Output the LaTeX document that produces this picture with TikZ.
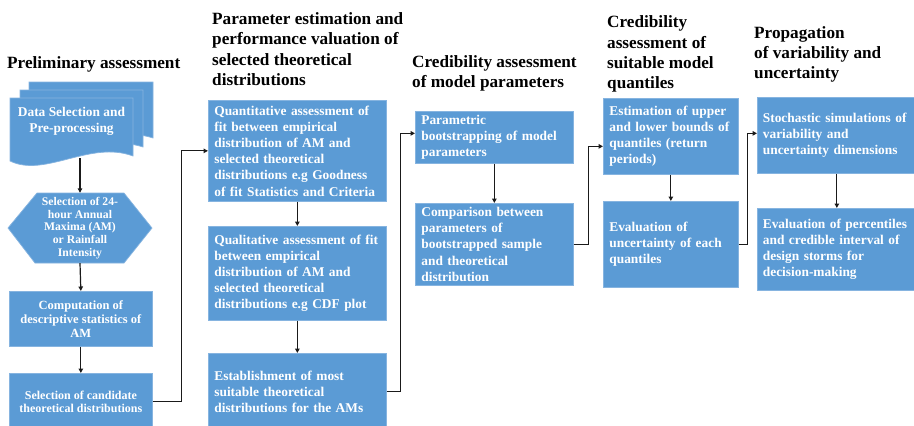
\documentclass[tikz,border=0pt]{standalone}
\usepackage{fontspec}
\setmainfont{Liberation Serif}
\usetikzlibrary{arrows.meta,calc}
\definecolor{boxblue}{HTML}{5B9BD5}
\definecolor{boxedge}{HTML}{86B4E0}
\definecolor{wire}{HTML}{1A1A1A}
\tikzset{
  fillshape/.style={fill=boxblue, draw=boxedge, line width=0.7pt},
  stepbox/.style={fillshape, text=white, anchor=north west, align=left,
    inner xsep=6pt, inner ysep=0pt, font=\bfseries\fontsize{13.4}{16.2}\selectfont,
    execute at begin node={\hyphenpenalty=10000\exhyphenpenalty=10000}},
  centerbox/.style={fillshape, text=white, anchor=north west, align=center, inner sep=0pt},
  heading/.style={anchor=north west, inner sep=0pt, align=left,
    font=\bfseries\fontsize{17.2}{20.3}\selectfont},
  flow/.style={draw=wire, line width=1.2pt, -{Triangle[length=4.5pt,width=4.5pt]}},
}
\begin{document}
\begin{tikzpicture}[x=1pt,y=-1pt]
\fill[white] (0,0) rectangle (914,426);
\useasboundingbox (0,0) rectangle (914,426);

% column headings
\node[heading] (h1) at (7,56.4) {Preliminary assessment};
\node[heading] (h2) at (212,12.4) {Parameter estimation and\\performance valuation of\\selected theoretical\\distributions};
\node[heading] (h3) at (412,55.4) {Credibility assessment\\of model parameters};
\node[heading] (h4) at (607,15.6) {Credibility\\assessment of\\suitable model\\quantiles};
\node[heading] (h5) at (754,26) {Propagation\\of variability and\\uncertainty};

% stacked documents
\path[fillshape] (29,82) -- (153,82) -- (153,138) .. controls (110,124) and (65,158) .. (29,142) -- cycle;
\path[fillshape] (20,90) -- (143,90) -- (143,147) .. controls (100,133) and (55,166) .. (20,152) -- cycle;
\path[fillshape] (10,98) -- (133,98) -- (133,156) .. controls (90,140) and (45,178) .. (10,161) -- cycle;
\node[text=white, align=center, inner sep=0pt, font=\bfseries\fontsize{13.4}{15.5}\selectfont]
  (doc) at (71.5,121.5) {Data Selection and\\Pre-processing};
\coordinate (docb) at (80,158);

% hexagon
\coordinate (hexc) at (80,228);
\path[fillshape] ($(hexc)+(-43,-35)$) -- ($(hexc)+(44,-35)$) -- ($(hexc)+(72,0)$)
  -- ($(hexc)+(44,35)$) -- ($(hexc)+(-45,35)$) -- ($(hexc)+(-72,0)$) -- cycle;
\node[text=white, align=center, inner sep=0pt, minimum width=144pt, minimum height=70pt,
  font=\bfseries\fontsize{11.7}{12.75}\selectfont] (hex) at (hexc)
  {Selection of 24-\\hour Annual\\Maxima (AM)\\or Rainfall\\Intensity};

% left column boxes
\node[centerbox, minimum width=143pt, minimum height=55pt, font=\bfseries\fontsize{12.5}{14}\selectfont]
  (comput) at (9,291) {Computation of\\descriptive statistics of\\AM};
\node[centerbox, minimum width=143pt, minimum height=57pt, font=\bfseries\fontsize{12}{13}\selectfont]
  (select) at (9,373) {Selection of candidate\\theoretical distributions};

% second column
\node[stepbox, minimum height=101pt, text width=166pt] (quant) at (208,100)
  {Quantitative assessment of\\fit between empirical\\distribution of AM and\\selected theoretical\\distributions e.g Goodness\\of fit Statistics and Criteria};
\node[stepbox, minimum height=94pt, text width=166pt] (qual) at (208,226)
  {Qualitative assessment of fit\\between empirical\\distribution of AM and\\selected theoretical\\distributions e.g CDF plot};
\node[stepbox, minimum height=77pt, text width=166pt] (estab) at (208,353)
  {Establishment of most\\suitable theoretical\\distributions for the AMs};

% third column
\node[stepbox, minimum height=52pt, text width=146pt] (param) at (415,111)
  {Parametric\\bootstrapping of model\\parameters};
\node[stepbox, minimum height=82pt, text width=146pt] (comp) at (415,203)
  {Comparison between\\parameters of\\bootstrapped sample\\and theoretical\\distribution};

% fourth column
\node[stepbox, minimum height=76pt, text width=123pt] (estim) at (603,98)
  {Estimation of upper\\and lower bounds of\\quantiles (return\\periods)};
\node[stepbox, minimum height=86pt, text width=123pt] (evalu) at (603,201)
  {Evaluation of\\uncertainty of each\\quantiles};

% fifth column
\node[stepbox, inner xsep=5.5pt, minimum height=76pt, text width=148pt] (stoch) at (757,97)
  {Stochastic simulations of\\variability and\\uncertainty dimensions};
\node[stepbox, inner xsep=5.5pt, minimum height=82pt, text width=148pt] (perc) at (757,208)
  {Evaluation of percentiles\\and credible interval of\\design storms for\\decision-making};

% connectors
\draw[flow] (docb) -- (hex.north);
\draw[flow] (hex.south) -- (comput.north);
\draw[flow] (comput.south) -- (select.north);
\draw[flow] (select.east) -- ++(29,0) |- (quant.west);
\draw[flow] (quant.south) -- (qual.north);
\draw[flow] (qual.south) -- (estab.north);
\draw[flow] (estab.east) -- ++(14,0) |- ($(param.west)+(0,-4)$);
\draw[flow] (param.south) -- (comp.north);
\draw[flow] (comp.east) -- ++(15,0) |- ($(estim.west)+(0,10)$);
\draw[flow] (estim.south) -- (evalu.north);
\draw[flow] (evalu.east) -- ++(9,0) |- ($(stoch.west)+(0,-2)$);
\draw[flow] (stoch.south) -- (perc.north);
\end{tikzpicture}
\end{document}
